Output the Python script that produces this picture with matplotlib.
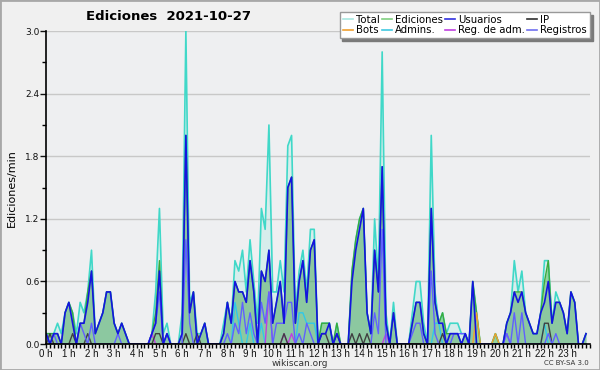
import numpy as np
import matplotlib
matplotlib.use("Agg")
import matplotlib.pyplot as plt
from matplotlib.lines import Line2D

# 10-minute bins, values in edits/min (144 bins)
total = [0.1, 0.1, 0.1, 0.2, 0.1, 0.3,  0.4, 0.3, 0.1, 0.4, 0.3, 0.5,
         0.9, 0.1, 0.2, 0.3, 0.5, 0.5,  0.2, 0.1, 0.2, 0.1, 0.0, 0.0,
         0.0, 0.0, 0.0, 0.0, 0.1, 0.5,  1.3, 0.1, 0.2, 0.0, 0.0, 0.0,
         0.3, 3.0, 0.4, 0.5, 0.1, 0.1,  0.2, 0.0, 0.0, 0.0, 0.0, 0.2,
         0.4, 0.2, 0.8, 0.7, 0.9, 0.5,  1.0, 0.6, 0.2, 1.3, 1.1, 2.1,
         0.5, 0.5, 0.8, 0.5, 1.9, 2.0,  0.3, 0.7, 0.9, 0.5, 1.1, 1.1,
         0.0, 0.2, 0.2, 0.2, 0.0, 0.2,  0.0, 0.0, 0.0, 0.7, 1.0, 1.2,
         1.3, 0.3, 0.1, 1.2, 0.6, 2.8,  0.3, 0.0, 0.4, 0.0, 0.0, 0.0,
         0.0, 0.3, 0.6, 0.6, 0.2, 0.0,  2.0, 0.5, 0.2, 0.3, 0.1, 0.2,
         0.2, 0.2, 0.1, 0.1, 0.0, 0.6,  0.3, 0.0, 0.0, 0.0, 0.0, 0.1,
         0.0, 0.0, 0.2, 0.3, 0.8, 0.5,  0.7, 0.3, 0.2, 0.1, 0.1, 0.3,
         0.8, 0.8, 0.2, 0.5, 0.4, 0.3,  0.1, 0.5, 0.4, 0.0, 0.0, 0.1]
ediciones = [0.1, 0.1, 0.1, 0.1, 0.0, 0.3,  0.4, 0.3, 0.0, 0.2, 0.2, 0.5,
             0.7, 0.1, 0.2, 0.3, 0.5, 0.5,  0.2, 0.1, 0.2, 0.1, 0.0, 0.0,
             0.0, 0.0, 0.0, 0.0, 0.1, 0.3,  0.8, 0.0, 0.1, 0.0, 0.0, 0.0,
             0.1, 2.0, 0.3, 0.5, 0.0, 0.1,  0.2, 0.0, 0.0, 0.0, 0.0, 0.1,
             0.4, 0.2, 0.6, 0.5, 0.5, 0.4,  0.8, 0.5, 0.0, 0.7, 0.6, 0.9,
             0.2, 0.4, 0.6, 0.2, 1.5, 1.6,  0.2, 0.6, 0.8, 0.4, 0.9, 1.0,
             0.0, 0.2, 0.2, 0.2, 0.0, 0.2,  0.0, 0.0, 0.0, 0.7, 1.0, 1.2,
             1.3, 0.3, 0.1, 0.9, 0.5, 1.7,  0.2, 0.0, 0.3, 0.0, 0.0, 0.0,
             0.0, 0.2, 0.4, 0.4, 0.1, 0.0,  1.3, 0.4, 0.2, 0.3, 0.1, 0.1,
             0.1, 0.1, 0.0, 0.1, 0.0, 0.6,  0.3, 0.0, 0.0, 0.0, 0.0, 0.1,
             0.0, 0.0, 0.2, 0.3, 0.5, 0.5,  0.5, 0.3, 0.2, 0.1, 0.1, 0.3,
             0.6, 0.8, 0.2, 0.4, 0.4, 0.3,  0.1, 0.5, 0.4, 0.0, 0.0, 0.1]
usuarios = [0.1, 0.0, 0.1, 0.1, 0.0, 0.3,  0.4, 0.2, 0.0, 0.2, 0.2, 0.4,
            0.7, 0.1, 0.2, 0.3, 0.5, 0.5,  0.2, 0.1, 0.2, 0.1, 0.0, 0.0,
            0.0, 0.0, 0.0, 0.0, 0.1, 0.2,  0.7, 0.0, 0.1, 0.0, 0.0, 0.0,
            0.1, 2.0, 0.3, 0.5, 0.0, 0.1,  0.2, 0.0, 0.0, 0.0, 0.0, 0.1,
            0.4, 0.2, 0.6, 0.5, 0.5, 0.4,  0.8, 0.5, 0.0, 0.7, 0.6, 0.9,
            0.2, 0.4, 0.6, 0.2, 1.5, 1.6,  0.2, 0.6, 0.8, 0.4, 0.9, 1.0,
            0.0, 0.1, 0.1, 0.2, 0.0, 0.1,  0.0, 0.0, 0.0, 0.6, 0.9, 1.1,
            1.3, 0.3, 0.1, 0.9, 0.5, 1.7,  0.2, 0.0, 0.3, 0.0, 0.0, 0.0,
            0.0, 0.2, 0.4, 0.4, 0.1, 0.0,  1.3, 0.4, 0.2, 0.2, 0.0, 0.1,
            0.1, 0.1, 0.0, 0.1, 0.0, 0.6,  0.0, 0.0, 0.0, 0.0, 0.0, 0.0,
            0.0, 0.0, 0.2, 0.3, 0.5, 0.4,  0.5, 0.3, 0.2, 0.1, 0.1, 0.3,
            0.4, 0.6, 0.2, 0.4, 0.4, 0.3,  0.1, 0.5, 0.4, 0.0, 0.0, 0.1]
ip = [0.0, 0.1, 0.0, 0.0, 0.0, 0.0,  0.0, 0.1, 0.0, 0.0, 0.0, 0.1,
      0.0, 0.0, 0.0, 0.0, 0.0, 0.0,  0.0, 0.0, 0.0, 0.0, 0.0, 0.0,
      0.0, 0.0, 0.0, 0.0, 0.0, 0.1,  0.1, 0.0, 0.0, 0.0, 0.0, 0.0,
      0.0, 0.1, 0.0, 0.0, 0.1, 0.0,  0.0, 0.0, 0.0, 0.0, 0.0, 0.0,
      0.0, 0.0, 0.0, 0.0, 0.0, 0.0,  0.0, 0.0, 0.0, 0.0, 0.0, 0.0,
      0.0, 0.0, 0.0, 0.1, 0.0, 0.0,  0.0, 0.0, 0.0, 0.0, 0.0, 0.0,
      0.0, 0.1, 0.1, 0.0, 0.0, 0.1,  0.0, 0.0, 0.0, 0.1, 0.0, 0.1,
      0.0, 0.1, 0.0, 0.0, 0.0, 0.0,  0.0, 0.0, 0.0, 0.0, 0.0, 0.0,
      0.0, 0.0, 0.0, 0.0, 0.0, 0.0,  0.0, 0.0, 0.0, 0.1, 0.0, 0.0,
      0.0, 0.0, 0.0, 0.0, 0.0, 0.0,  0.0, 0.0, 0.0, 0.0, 0.0, 0.0,
      0.0, 0.0, 0.0, 0.0, 0.0, 0.0,  0.0, 0.0, 0.0, 0.0, 0.0, 0.0,
      0.2, 0.2, 0.0, 0.0, 0.0, 0.0,  0.0, 0.0, 0.0, 0.0, 0.0, 0.0]
registros = [0.1, 0.0, 0.1, 0.0, 0.0, 0.0,  0.0, 0.0, 0.0, 0.2, 0.1, 0.0,
             0.2, 0.0, 0.0, 0.0, 0.0, 0.0,  0.0, 0.1, 0.0, 0.0, 0.0, 0.0,
             0.0, 0.0, 0.0, 0.0, 0.1, 0.2,  0.5, 0.0, 0.1, 0.0, 0.0, 0.0,
             0.0, 1.0, 0.2, 0.0, 0.0, 0.0,  0.0, 0.0, 0.0, 0.0, 0.0, 0.0,
             0.1, 0.0, 0.2, 0.1, 0.4, 0.1,  0.3, 0.1, 0.0, 0.4, 0.2, 0.5,
             0.0, 0.2, 0.2, 0.2, 0.4, 0.4,  0.0, 0.1, 0.0, 0.2, 0.1, 0.0,
             0.0, 0.0, 0.0, 0.0, 0.0, 0.0,  0.0, 0.0, 0.0, 0.0, 0.0, 0.0,
             0.0, 0.0, 0.0, 0.3, 0.1, 1.1,  0.0, 0.0, 0.0, 0.0, 0.0, 0.0,
             0.0, 0.1, 0.2, 0.2, 0.0, 0.0,  0.7, 0.1, 0.0, 0.0, 0.0, 0.0,
             0.1, 0.1, 0.1, 0.1, 0.0, 0.0,  0.0, 0.0, 0.0, 0.0, 0.0, 0.0,
             0.0, 0.0, 0.1, 0.0, 0.3, 0.0,  0.3, 0.0, 0.0, 0.0, 0.0, 0.0,
             0.0, 0.1, 0.0, 0.1, 0.0, 0.0,  0.0, 0.0, 0.0, 0.0, 0.0, 0.0]
admins = [0.0, 0.0, 0.0, 0.0, 0.0, 0.0,  0.0, 0.0, 0.0, 0.0, 0.0, 0.0,
          0.0, 0.0, 0.0, 0.0, 0.0, 0.0,  0.0, 0.0, 0.0, 0.0, 0.0, 0.0,
          0.0, 0.0, 0.0, 0.0, 0.0, 0.0,  0.0, 0.0, 0.0, 0.0, 0.0, 0.0,
          0.0, 0.0, 0.0, 0.0, 0.0, 0.0,  0.0, 0.0, 0.0, 0.0, 0.0, 0.0,
          0.0, 0.0, 0.4, 0.2, 0.0, 0.0,  0.2, 0.0, 0.0, 0.2, 0.0, 0.0,
          0.0, 0.0, 0.0, 0.0, 0.0, 0.0,  0.0, 0.3, 0.3, 0.2, 0.2, 0.2,
          0.0, 0.0, 0.0, 0.0, 0.0, 0.0,  0.0, 0.0, 0.0, 0.0, 0.0, 0.0,
          0.0, 0.0, 0.0, 0.0, 0.0, 0.0,  0.0, 0.0, 0.0, 0.0, 0.0, 0.0,
          0.0, 0.0, 0.0, 0.0, 0.0, 0.0,  0.0, 0.2, 0.2, 0.0, 0.0, 0.0,
          0.0, 0.0, 0.0, 0.0, 0.0, 0.0,  0.0, 0.0, 0.0, 0.0, 0.0, 0.0,
          0.0, 0.0, 0.1, 0.0, 0.0, 0.0,  0.0, 0.0, 0.0, 0.0, 0.0, 0.0,
          0.2, 0.0, 0.0, 0.0, 0.0, 0.0,  0.0, 0.0, 0.0, 0.0, 0.0, 0.0]
bots = [0.0] * 114 + [0.3, 0.0, 0.0, 0.0, 0.0, 0.1] + [0.0] * 24
reg_adm = ([0.0] * 28 + [0.1] + [0.0] * 30 + [0.5, 0.0, 0.0, 0.0, 0.1, 0.0, 0.1]
           + [0.0] * 24 + [0.1] + [0.0] * 31 + [0.1] + [0.0] * 21)

hour_labels = ["%d h" % h for h in range(24)]
hours = np.arange(len(total)) / 6.0

plt.rcParams['font.family'] = 'DejaVu Sans'
fig = plt.figure(figsize=(6, 3.7), dpi=100, facecolor='#f0f0f0')
ax = fig.add_axes([0.077, 0.070, 0.906, 0.846], facecolor='#eeeff1')

# frame around the figure
fig.patches.append(plt.Rectangle((0, 0), 1, 1, transform=fig.transFigure,
                                 fill=False, edgecolor='#a8a8a8', linewidth=2))

ax.fill_between(hours, total, color='#40e0d0', alpha=0.13, linewidth=0)
ax.plot(hours, total, color='#40d8c8', linewidth=1.2)
ax.fill_between(hours, ediciones, color='#50b850', alpha=0.5, linewidth=0)
ax.plot(hours, ediciones, color='#3caa3c', linewidth=1.0)
ax.fill_between(hours, usuarios, color='#1818e8', alpha=0.05, linewidth=0)
ax.plot(hours, admins, color='#30c8e8', linewidth=1.0)
ax.plot(hours, bots, color='#f0a030', linewidth=1.0)
ax.plot(hours, reg_adm, color='#c040e0', linewidth=1.0)
ax.plot(hours, ip, color='#404040', linewidth=1.0)
ax.plot(hours, registros, color='#6060ff', linewidth=1.0)
ax.plot(hours, usuarios, color='#1414e0', linewidth=1.2)

ax.set_xlim(0, 24)
ax.set_ylim(0, 3.0)
ax.set_yticks(np.arange(0, 3.01, 0.6))
ax.set_yticks(np.arange(0, 3.01, 0.3), minor=True)
ax.set_yticklabels(["%.1f" % v for v in np.arange(0, 3.01, 0.6)])
ax.set_xticks(np.arange(24))
ax.set_xticklabels(hour_labels, family='Liberation Sans')
ax.set_xticks(np.arange(0, 24.01, 1 / 6.0), minor=True)
ax.tick_params(axis='y', which='major', labelsize=6.5, length=4, width=1,
               pad=1, colors='#111111')
ax.tick_params(axis='x', which='major', labelsize=7, length=3, width=1,
               pad=0.5, colors='#111111')
ax.tick_params(axis='both', which='minor', length=3, width=1)
ax.yaxis.grid(True, color='#c8c8c8', linewidth=1)
ax.set_axisbelow(True)
for side in ['top', 'right']:
    ax.spines[side].set_visible(False)
ax.spines['left'].set_linewidth(1.2)
ax.spines['bottom'].set_linewidth(1.2)
ax.set_ylabel('Ediciones/min', fontsize=8, labelpad=6)

fig.text(0.143, 0.955, 'Ediciones  2021-10-27', fontsize=9.5, fontweight='bold',
         ha='left', va='center')
fig.text(0.5, 0.018, 'wikiscan.org', fontsize=6.5, color='#333333', ha='center', va='center')
fig.text(0.982, 0.018, 'CC BY-SA 3.0', fontsize=5, color='#333333', ha='right', va='center')

handles = [
    Line2D([], [], color='#a8e8e0', lw=1.2),
    Line2D([], [], color='#f0a030', lw=1.2),
    Line2D([], [], color='#80d080', lw=1.2),
    Line2D([], [], color='#40c8e0', lw=1.2),
    Line2D([], [], color='#3030e0', lw=1.2),
    Line2D([], [], color='#c040e0', lw=1.2),
    Line2D([], [], color='#303030', lw=1.2),
    Line2D([], [], color='#7070f0', lw=1.2),
]
names = ['Total', 'Bots', 'Ediciones', 'Admins.', 'Usuarios', 'Reg. de adm.', 'IP', 'Registros']
leg = fig.legend(handles, names, ncol=4, loc='upper right', bbox_to_anchor=(0.983, 0.968),
                 fontsize=7.3, frameon=True, fancybox=False,
                 shadow={'color': '#7a7a7a', 'alpha': 1},
                 handlelength=1.0, handletextpad=0.3, columnspacing=0.2,
                 labelspacing=0.05, borderpad=0.3, borderaxespad=0)
leg.get_frame().set_edgecolor('#999999')
leg.get_frame().set_facecolor('white')

fig.savefig('out.png', dpi=100, facecolor=fig.get_facecolor())
